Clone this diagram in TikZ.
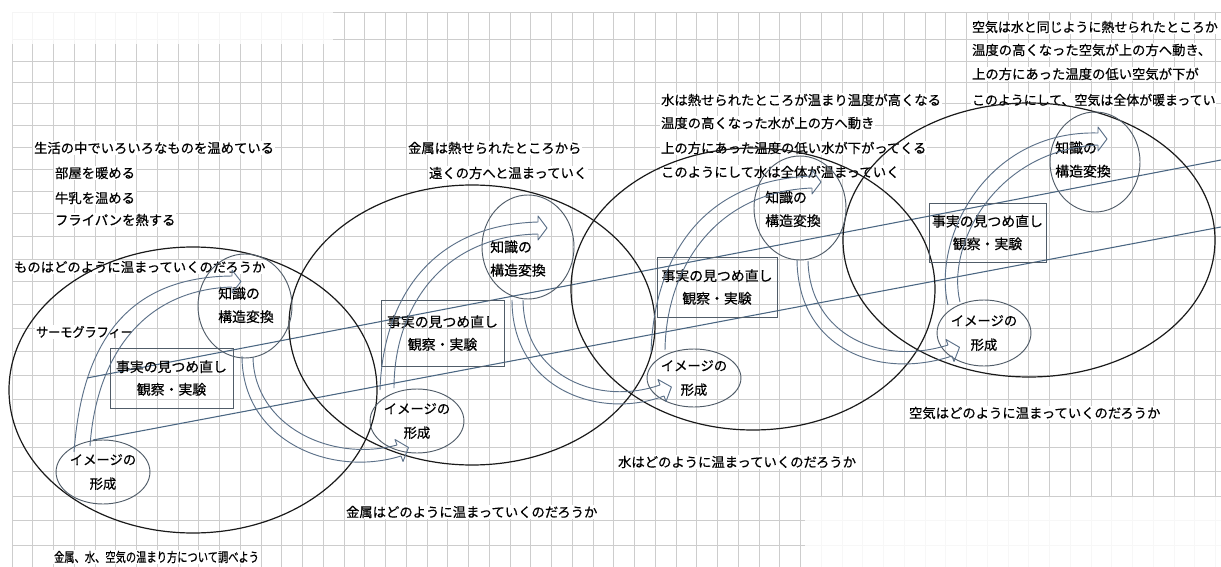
\documentclass[tikz,border=0pt]{standalone}
\usepackage{fontspec}
\newfontfamily\jp[FakeBold=0.5]{Noto Sans CJK JP}
\usetikzlibrary{shapes.geometric}
\definecolor{gridc}{HTML}{CDCDCD}
\definecolor{bandc}{HTML}{5C7189}
\definecolor{axisc}{HTML}{4A6682}
\definecolor{shapec}{HTML}{505C68}
\definecolor{bigc}{HTML}{1A1A1A}
\newcommand\tf{\jp\fontsize{10}{17}\selectfont}
\newcommand\hsq[2]{\scalebox{#1}[1]{#2}}
\begin{document}
\begin{tikzpicture}[x=0.75pt,y=-0.75pt,
  gridline/.style={gridc, line width=0.75pt},
  txt/.style={font=\tf, anchor=west, inner sep=0.6pt, fill=white, text=black},
  big/.style={bigc, line width=0.9pt},
  band/.style={bandc, line width=0.7pt, line join=round},
  axisline/.style={axisc, line width=0.8pt},
  smallell/.style={ellipse, draw=shapec, line width=0.7pt, inner sep=0pt, align=center, font=\jp\fontsize{10}{18}\selectfont},
  factbox/.style={rectangle, draw=shapec, line width=0.7pt, inner sep=0pt, align=center, font=\jp\fontsize{10.4}{17}\selectfont},
  ktext/.style={anchor=west, align=left, inner sep=0pt, font=\jp\fontsize{10.4}{17.5}\selectfont}]
\useasboundingbox (0,0) rectangle (1221,567);
\clip (0,0) rectangle (1221,567);
\fill[white] (0,0) rectangle (1221,567);
% grid paper
\foreach \k in {0,...,58}{\draw[gridline] ({12+20.75*\k},13) -- ({12+20.75*\k},567);}
\draw[gridline] (12,13) -- (1221,13);
\foreach \k in {0,...,22}{\draw[gridline] (12,{40+21*\k+0.09*\k*\k}) -- (1221,{40+21*\k+0.09*\k*\k});}
% faded areas
\fill[white, opacity=0.8] (8,8) rectangle (333,44);
\fill[white, opacity=0.85] (805,497) rectangle (1221,567);
% free texts
\node[txt] (t1) at (33,148) {生活の中でいろいろなものを温めている};
\node[txt] (t2) at (54,173) {部屋を暖める};
\node[txt] (t3) at (54,198) {牛乳を温める};
\node[txt] (t4) at (54,220) {フライパンを熱する};
\node[txt] (t5) at (13,267) {ものはどのように温まっていくのだろうか};
\node[txt] (t6) at (35,332) {\hsq{0.91}{サーモグラフィー}};
\node[txt] (t7) at (53,557) {\hsq{0.77}{金属、水、空気の温まり方について調べよう}};
\node[txt] (t8) at (407,148) {金属は熱せられたところから};
\node[txt] (t9) at (428,173) {遠くの方へと温まっていく};
\node[txt] (t10) at (345,512) {金属はどのように温まっていくのだろうか};
\node[txt] (t11) at (660,100) {水は熱せられたところが温まり温度が高くなる};
\node[txt] (t12) at (660,123) {温度の高くなった水が上の方へ動き};
\node[txt] (t13) at (660,148) {上の方にあった温度の低い水が下がってくる};
\node[txt] (t14) at (660,172) {このようにして水は全体が温まっていく};
\node[txt] (t15) at (617,462) {水はどのように温まっていくのだろうか};
\node[txt] (t16) at (971,27) {\hsq{0.97}{空気は水と同じように熱せられたところか}};
\node[txt] (t17) at (971,50) {温度の高くなった空気が上の方へ動き、};
\node[txt] (t18) at (971,74) {上の方にあった温度の低い空気が下が};
\node[txt] (t19) at (971,100) {\hsq{0.97}{このようにして、空気は全体が暖まってい}};
\node[txt] (t20) at (908,413) {空気はどのように温まっていくのだろうか};
% axis lines
\coordinate (AxU0) at (87,378); \coordinate (AxU1) at (1221,160);
\coordinate (AxL0) at (93,440); \coordinate (AxL1) at (1221,227);
\draw[axisline] (AxU0) -- (AxU1);
\draw[axisline] (AxL0) -- (AxL1);
% big ellipses
\draw[big] (193,390) ellipse [x radius=184, y radius=143];
\draw[big] (472,325) ellipse [x radius=183, y radius=140];
\draw[big] (753,289) ellipse [x radius=182, y radius=141];
\draw[big] (1029,240) ellipse [x radius=186, y radius=137];
% stage shapes
\node[smallell, minimum width=66pt, minimum height=48pt] (I1) at (103,472) {イメージの\\形成};
\node[smallell, minimum width=66pt, minimum height=48pt] (I2) at (417,421) {イメージの\\形成};
\node[smallell, minimum width=66pt, minimum height=43.5pt] (I3) at (694,378) {イメージの\\形成};
\node[smallell, minimum width=66pt, minimum height=49.5pt] (I4) at (984,333) {イメージの\\形成};
\node[smallell, minimum width=70.5pt, minimum height=78pt] (K1) at (245,306) {};
\node[smallell, minimum width=69pt, minimum height=78pt] (K2) at (528,247) {};
\node[smallell, minimum width=69pt, minimum height=78pt] (K3) at (800,208) {};
\node[smallell, minimum width=67.5pt, minimum height=75pt] (K4) at (1095,162) {};
\node[ktext] (K1t) at (218,305) {知識の\\構造変換};
\node[ktext] (K2t) at (490,258.5) {知識の\\構造変換};
\node[ktext] (K3t) at (765,209) {知識の\\構造変換};
\node[ktext] (K4t) at (1055,159.5) {知識の\\構造変換};
\node[factbox, minimum width=92.25pt, minimum height=45pt] (R1) at (171.5,378) {事実の見つめ直し\\観察・実験};
\node[factbox, minimum width=92.25pt, minimum height=49.5pt] (R2) at (442.5,333) {事実の見つめ直し\\観察・実験};
\node[factbox, minimum width=90pt, minimum height=45pt] (R3) at (717,287) {事実の見つめ直し\\観察・実験};
\node[factbox, minimum width=87.75pt, minimum height=44.25pt] (R4) at (987.5,232.5) {事実の見つめ直し\\観察・実験};
% spiral bands
\coordinate (U1a) at (74,452); \coordinate (U1b) at (232,276);
\coordinate (U1c) at (90,446); \coordinate (U1d) at (232,287);
\draw[band] (U1a) .. controls (82,345) and (125,277) .. (U1b);
\draw[band] (U1c) .. controls (96,360) and (140,290) .. (U1d);
\draw[band] (U1b) -- (232,270) -- (241,281.5) -- (232,293) -- (U1d);
\coordinate (D1a) at (242,356); \coordinate (D1b) at (401,456);
\coordinate (D1c) at (253,357); \coordinate (D1d) at (397,445);
\draw[band] (D1a) .. controls (242,440) and (330,478) .. (D1b);
\draw[band] (D1c) .. controls (254,425) and (330,463) .. (D1d);
\draw[band] (D1b) -- (403,461.5) -- (408.5,447.5) -- (395,439.5) -- (D1d);
\coordinate (U2a) at (380,390); \coordinate (U2b) at (538,222);
\coordinate (U2c) at (394,388); \coordinate (U2d) at (538,234);
\draw[band] (U2a) .. controls (383,300) and (430,225) .. (U2b);
\draw[band] (U2c) .. controls (394,310) and (440,236) .. (U2d);
\draw[band] (U2b) -- (538,216) -- (547,228) -- (538,240) -- (U2d);
\coordinate (D2a) at (512,300); \coordinate (D2b) at (664,396);
\coordinate (D2c) at (523,300); \coordinate (D2d) at (660,385);
\draw[band] (D2a) .. controls (512,390) and (600,420) .. (D2b);
\draw[band] (D2c) .. controls (524,378) and (600,406) .. (D2d);
\draw[band] (D2b) -- (666,401.5) -- (671.4,387) -- (658,379.5) -- (D2d);
\coordinate (U3a) at (651,352); \coordinate (U3b) at (812,176);
\coordinate (U3c) at (665,350); \coordinate (U3d) at (812,188);
\draw[band] (U3a) .. controls (654,260) and (700,180) .. (U3b);
\draw[band] (U3c) .. controls (666,272) and (712,192) .. (U3d);
\draw[band] (U3b) -- (812,170) -- (821,182) -- (812,194) -- (U3d);
\coordinate (D3a) at (797,260); \coordinate (D3b) at (952,356);
\coordinate (D3c) at (808,261); \coordinate (D3d) at (948,345);
\draw[band] (D3a) .. controls (798,350) and (880,380) .. (D3b);
\draw[band] (D3c) .. controls (810,336) and (882,366) .. (D3d);
\draw[band] (D3b) -- (954,361.5) -- (959.5,347.3) -- (946,339.5) -- (D3d);
\coordinate (U4a) at (948,305); \coordinate (U4b) at (1098,133);
\coordinate (U4c) at (960,302); \coordinate (U4d) at (1098,145);
\draw[band] (U4a) .. controls (932,240) and (985,130) .. (U4b);
\draw[band] (U4c) .. controls (946,245) and (995,150) .. (U4d);
\draw[band] (U4b) -- (1098,127) -- (1107,139) -- (1098,151) -- (U4d);
\end{tikzpicture}
\end{document}
